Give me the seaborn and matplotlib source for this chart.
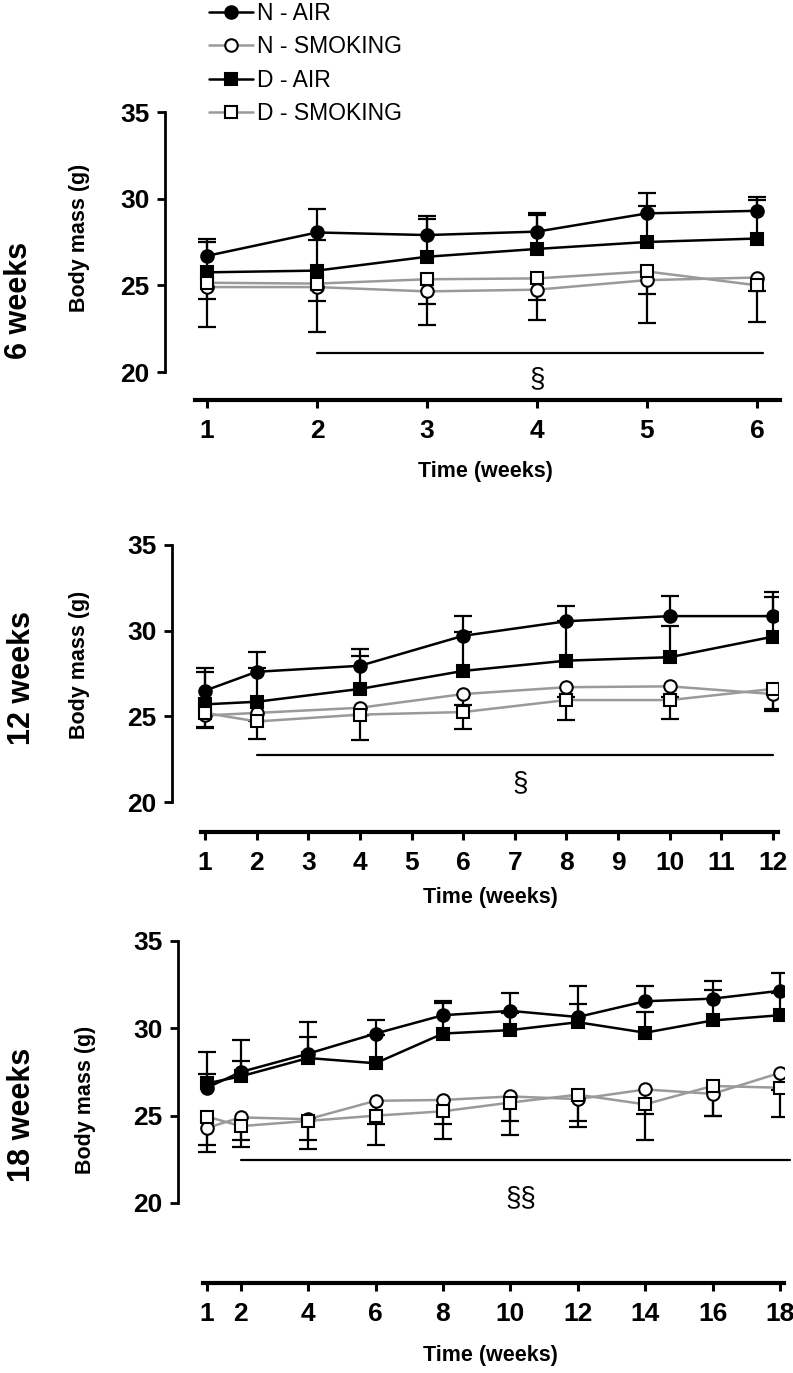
import matplotlib
matplotlib.use("Agg")
import matplotlib.pyplot as plt
import numpy as np
import pandas as pd
import seaborn as sns

# ---- data, mean and one-sided error ----
groups = ["N - AIR", "N - SMOKING", "D - AIR", "D - SMOKING"]

weeks_6 = [1, 2, 3, 4, 5, 6]
n_air_6 = [26.7, 28.05, 27.9, 28.1, 29.15, 29.3]
n_air_6_err = [1.0, 1.35, 1.1, 1.1, 1.15, 0.8]
n_smk_6 = [24.9, 24.9, 24.65, 24.75, 25.3, 25.45]
n_smk_6_err = [2.3, 2.6, 1.95, 1.75, 2.5, 2.55]
d_air_6 = [25.75, 25.85, 26.65, 27.1, 27.5, 27.7]
d_air_6_err = [1.75, 1.75, 2.15, 1.95, 2.05, 2.25]
d_smk_6 = [25.15, 25.1, 25.35, 25.4, 25.8, 25.0]
d_smk_6_err = [0.95, 1.0, 1.45, 1.25, 1.3, 0.35]

weeks_12 = [1, 2, 4, 6, 8, 10, 12]
n_air_12 = [26.5, 27.6, 27.95, 29.7, 30.55, 30.85, 30.85]
n_air_12_err = [1.35, 1.15, 1.0, 1.15, 0.9, 1.15, 1.1]
n_smk_12 = [25.05, 25.2, 25.5, 26.3, 26.7, 26.75, 26.3]
n_smk_12_err = [0.65, 0.5, 0.4, 0.65, 0.6, 0.6, 1.0]
d_air_12 = [25.7, 25.85, 26.6, 27.65, 28.25, 28.45, 29.65]
d_air_12_err = [1.9, 2.0, 1.9, 2.3, 2.3, 1.85, 2.6]
d_smk_12 = [25.2, 24.7, 25.1, 25.25, 25.95, 25.95, 26.6]
d_smk_12_err = [0.9, 1.05, 1.5, 1.0, 1.15, 1.1, 1.2]

weeks_18 = [1, 2, 4, 6, 8, 10, 12, 14, 16, 18]
n_air_18 = [26.6, 27.5, 28.55, 29.7, 30.75, 31.0, 30.65, 31.55, 31.7, 32.15]
n_air_18_err = [2.05, 1.85, 1.8, 0.8, 0.8, 1.0, 1.8, 0.9, 1.0, 1.0]
n_smk_18 = [24.3, 24.9, 24.8, 25.85, 25.9, 26.1, 25.95, 26.5, 26.25, 27.45]
n_smk_18_err = [1.0, 1.3, 1.2, 1.3, 1.35, 1.4, 1.6, 1.4, 1.25, 1.0]
d_air_18 = [26.85, 27.25, 28.3, 28.0, 29.7, 29.9, 30.35, 29.75, 30.45, 30.75]
d_air_18_err = [0.55, 0.87, 1.2, 1.6, 1.75, 1.0, 1.05, 1.2, 1.75, 1.25]
d_smk_18 = [24.95, 24.4, 24.7, 25.0, 25.25, 25.75, 26.2, 25.65, 26.7, 26.6]
d_smk_18_err = [2.05, 1.2, 1.6, 1.7, 1.6, 1.85, 1.5, 2.05, 1.7, 1.7]

panel_titles = ["6 weeks", "12 weeks", "18 weeks"]
tick_sets = [[1, 2, 3, 4, 5, 6],
             [1, 2, 3, 4, 5, 6, 7, 8, 9, 10, 11, 12],
             [1, 2, 4, 6, 8, 10, 12, 14, 16, 18]]
sig_marks = ["§", "§", "§§"]
sig_spans = [(2, 6.05, 21.1, 4.0, 19.6), (2, 12, 22.75, 7.1, 21.1), (2, 18.3, 22.45, 10.3, 20.3)]

panels = [
    (weeks_6, [(n_air_6, n_air_6_err), (n_smk_6, n_smk_6_err), (d_air_6, d_air_6_err), (d_smk_6, d_smk_6_err)]),
    (weeks_12, [(n_air_12, n_air_12_err), (n_smk_12, n_smk_12_err), (d_air_12, d_air_12_err), (d_smk_12, d_smk_12_err)]),
    (weeks_18, [(n_air_18, n_air_18_err), (n_smk_18, n_smk_18_err), (d_air_18, d_air_18_err), (d_smk_18, d_smk_18_err)]),
]

# ---- styling ----
sns.set_style("ticks")
NARROW = ["Liberation Sans Narrow", "Liberation Sans", "DejaVu Sans"]
WIDE = ["Liberation Sans", "DejaVu Sans"]
plt.rcParams["font.family"] = NARROW
for k in ["text.color", "axes.labelcolor", "xtick.color", "ytick.color", "axes.edgecolor"]:
    plt.rcParams[k] = "black"

GRAY = "#9a9a9a"
styles = {
    "N - AIR": dict(color="black", marker="o", markerfacecolor="black"),
    "N - SMOKING": dict(color=GRAY, marker="o", markerfacecolor="white"),
    "D - AIR": dict(color="black", marker="s", markerfacecolor="black"),
    "D - SMOKING": dict(color=GRAY, marker="s", markerfacecolor="white"),
}
upward = {"N - AIR": True, "N - SMOKING": False, "D - AIR": True, "D - SMOKING": False}

W, H = 793, 1373
fig = plt.figure(figsize=(W / 100, H / 100), dpi=100)

# pixel layout of each panel
layout = [
    dict(spine=165, a=(1, 207), b=(6, 757), y20=372, y35=112, axline=400, xs=195, xe=780,
         title=(19, 300), ylab=(80, 238), xlab=(485, 472)),
    dict(spine=172, a=(1, 205), b=(12, 773), y20=802, y35=545, axline=832, xs=201, xe=778,
         title=(22, 678), ylab=(80, 665), xlab=(490, 898)),
    dict(spine=178, a=(1, 207), b=(18, 780), y20=1203, y35=941, axline=1283, xs=203, xe=784,
         title=(22, 1115), ylab=(85, 1100), xlab=(490, 1355)),
]

for i, (weeks, series) in enumerate(panels):
    L = layout[i]
    (va, pa), (vb, pb) = L["a"], L["b"]
    ppx = (pb - pa) / (vb - va)
    ppy = (L["y20"] - L["y35"]) / 15.0
    xmin = va - (pa - L["spine"]) / ppx
    xmax = va + (L["xe"] - pa) / ppx
    xline0 = va - (pa - L["xs"]) / ppx
    yaxis = 20 - (L["axline"] - L["y20"]) / ppy
    ybot, ytop = yaxis - 0.3, 35.4
    top_px = L["y35"] - (ytop - 35) * ppy
    bot_px = L["y20"] + (20 - ybot) * ppy
    ax = fig.add_axes([L["spine"] / W, 1 - bot_px / H, (L["xe"] - L["spine"]) / W, (bot_px - top_px) / H])

    rows = []
    for g, (m, e) in zip(groups, series):
        for w, v, s in zip(weeks, m, e):
            rows.append((g, w, v, s))
    df = pd.DataFrame(rows, columns=["group", "week", "mass", "err"])

    for g in groups:
        d = df[df.group == g]
        top = d.mass + d.err if upward[g] else d.mass - d.err
        ax.vlines(d.week, d.mass, top, color="black", lw=1.6, zorder=1)
        ax.plot(d.week, top, ls="none", marker="_", ms=13, mew=1.6, color="black", zorder=1)
    for g in groups:
        d = df[df.group == g]
        sns.lineplot(data=d, x="week", y="mass", ax=ax, label=g, linewidth=1.8,
                     markersize=9, markeredgecolor="black", markeredgewidth=1.5,
                     zorder=3, legend=False, **styles[g])

    x0, x1, yl, xt, yt = sig_spans[i]
    ax.plot([x0, x1], [yl, yl], color="black", lw=1.6, clip_on=False)
    ax.text(xt, yt, sig_marks[i], ha="center", va="center", fontsize=20, clip_on=False)

    ax.set_xlim(xmin, xmax)
    ax.set_ylim(ybot, ytop)
    sns.despine(ax=ax)
    ax.spines["bottom"].set_position(("data", yaxis))
    ax.spines["bottom"].set_bounds(xline0, xmax)
    ax.spines["bottom"].set_linewidth(3)
    ax.spines["left"].set_bounds(20, 35)
    ax.spines["left"].set_linewidth(2)
    ax.set_yticks([20, 25, 30, 35])
    ax.set_xticks(tick_sets[i])
    ax.tick_params(axis="x", length=6, width=2.2, pad=8, labelsize=19)
    ax.tick_params(axis="y", length=6, width=2, pad=5, labelsize=19)
    for t in ax.get_xticklabels() + ax.get_yticklabels():
        t.set_fontweight("bold")
    ax.set_xlabel("")
    ax.set_ylabel("")
    ax.patch.set_alpha(0)

    fig.text(L["title"][0] / W, 1 - L["title"][1] / H, panel_titles[i], rotation=90,
             ha="center", va="center", fontsize=22, fontweight="bold", family=WIDE)
    fig.text(L["ylab"][0] / W, 1 - L["ylab"][1] / H, "Body mass (g)", rotation=90,
             ha="center", va="center", fontsize=15.5, fontweight="bold", family=WIDE)
    fig.text(L["xlab"][0] / W, 1 - L["xlab"][1] / H, "Time (weeks)",
             ha="center", va="center", fontsize=15.5, fontweight="bold")

    if i == 0:
        handles, labels = ax.get_legend_handles_labels()

fig.legend(handles, labels, loc="upper left", bbox_to_anchor=(200 / W, 1 + 7 / H),
           frameon=False, fontsize=16.5, handlelength=1.9, handletextpad=0.2,
           labelspacing=0.45, borderaxespad=0)

fig.savefig("out.png", dpi=100)
